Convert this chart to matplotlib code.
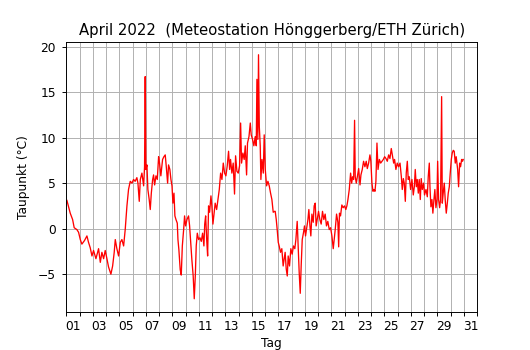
import numpy as np
import matplotlib
matplotlib.use("Agg")
import matplotlib.pyplot as plt

# time in days since 1 April 2022 00:00
days = [
    0.05, 0.3, 0.48, 0.6, 0.8, 0.93, 1.06, 1.18, 1.38, 1.56, 1.68, 1.81, 1.94, 2.06, 2.24, 2.44,
    2.57, 2.69, 2.82, 2.94, 3.07, 3.19, 3.37, 3.5, 3.62, 3.7, 3.82, 3.95, 4.08, 4.2, 4.33, 4.45,
    4.58, 4.7, 4.83, 4.96, 5.08, 5.2,
    5.33, 5.41, 5.51, 5.59, 5.71, 5.84, 5.91, 5.96, 6.01, 6.09, 6.16, 6.26, 6.34, 6.42, 6.52, 6.59,
    6.67, 6.77, 6.87, 6.97, 7.04, 7.14, 7.27, 7.37, 7.47, 7.55, 7.65, 7.72, 7.82, 7.90, 7.98, 8.05,
    8.13, 8.20, 8.28, 8.38, 8.43, 8.50, 8.60, 8.68, 8.76, 8.86, 8.93, 9.01, 9.11, 9.23, 9.31, 9.38,
    9.48, 9.58, 9.66, 9.74, 9.81, 9.89, 9.99, 10.09, 10.19, 10.29, 10.39, 10.45, 10.52,
    10.6, 10.67, 10.74, 10.82, 10.92, 10.99, 11.07, 11.17, 11.24, 11.35, 11.45, 11.55, 11.65, 11.75,
    11.85, 11.95, 12.05, 12.15, 12.25, 12.33, 12.40, 12.50, 12.60, 12.70, 12.78, 12.88, 12.98, 13.08,
    13.16, 13.23, 13.33, 13.43, 13.51, 13.61, 13.68, 13.79, 13.89, 13.96, 14.06, 14.16, 14.26, 14.34,
    14.39, 14.46, 14.51, 14.57, 14.64, 14.69, 14.77, 14.87, 14.94, 15.02, 15.12, 15.22, 15.32, 15.42,
    15.52, 15.62, 15.72, 15.77,
    15.85, 15.92, 16.0, 16.07, 16.17, 16.27, 16.37, 16.45, 16.52, 16.6, 16.68, 16.75, 16.85, 16.95,
    17.05, 17.15, 17.25, 17.33, 17.43, 17.51, 17.58, 17.66, 17.73, 17.81, 17.91, 17.98, 18.06, 18.13,
    18.24, 18.31, 18.39, 18.46, 18.54, 18.64, 18.71, 18.79, 18.86, 18.94, 19.04, 19.14, 19.24, 19.34,
    19.44, 19.54, 19.64, 19.74, 19.85, 19.95, 20.05, 20.15, 20.22, 20.30, 20.40, 20.50, 20.56, 20.62,
    20.70, 20.80, 20.90, 21.0, 21.1, 21.18,
    21.26, 21.36, 21.46, 21.54, 21.61, 21.69, 21.76, 21.81, 21.89, 21.97, 22.07, 22.17, 22.24, 22.34,
    22.44, 22.54, 22.64, 22.72, 22.82, 22.92, 22.99, 23.07, 23.15, 23.22, 23.30, 23.37, 23.45, 23.53,
    23.63, 23.73, 23.83, 23.93, 24.03, 24.13, 24.23, 24.33, 24.43, 24.53, 24.63, 24.71, 24.78, 24.88,
    24.98, 25.08, 25.19, 25.29, 25.36, 25.44, 25.51, 25.59, 25.66, 25.74, 25.81, 25.89, 25.99, 26.09,
    26.19, 26.27, 26.34,
    26.42, 26.49, 26.57, 26.64, 26.72, 26.79, 26.87, 26.97, 27.04, 27.15, 27.25, 27.32, 27.40, 27.45,
    27.52, 27.60, 27.67, 27.75, 27.82, 27.90, 27.98, 28.03, 28.10, 28.18, 28.25, 28.33, 28.38, 28.45,
    28.53, 28.60, 28.68, 28.76, 28.83, 28.91, 28.98, 29.06, 29.13, 29.21, 29.28, 29.36, 29.43, 29.54,
    29.61, 29.69, 29.76, 29.84, 29.91, 29.96,
]

# dew point (deg C)
dewpoint = [
    3.1, 1.7, 1.0, 0.1, -0.1, -0.4, -1.2, -1.7, -1.3, -0.8, -1.5, -2.1, -3.0, -2.4, -3.3, -2.2,
    -3.7, -2.6, -3.3, -2.4, -3.3, -4.2, -5.0, -4.1, -2.6, -1.2, -2.2, -3.0, -1.5, -1.2, -1.9, -0.1,
    2.5, 4.3, 5.2, 5.0, 5.4, 5.2,
    5.6, 5.0, 3.0, 5.4, 6.1, 4.7, 6.8, 16.7, 6.5, 7.0, 4.3, 3.2, 2.1, 3.9, 5.4, 5.9,
    4.8, 5.8, 5.4, 7.9, 7.2, 5.8, 7.6, 7.9, 8.1, 6.8, 5.0, 7.0, 6.5, 5.4, 4.7, 2.8,
    3.9, 1.4, 1.0, 0.6, -1.2, -2.3, -4.5, -5.1, -1.9, -0.1, 1.4, 0.3, 1.0, 1.4, 0.3, -1.2,
    -3.4, -5.2, -7.7, -5.2, -1.9, -0.5, -1.2, -1.0, -1.4, -0.5, -1.9, 0.5, 1.4,
    -1.2, -3.0, 2.5, 1.8, 3.6, 2.5, 0.5, 1.8, 2.8, 2.1, 3.2, 4.3, 6.1, 5.4,
    7.2, 6.1, 5.8, 6.9, 8.5, 6.5, 7.6, 6.1, 7.2, 3.8, 8.0, 6.3, 6.1, 6.9,
    11.6, 7.2, 8.3, 7.6, 9.1, 5.9, 9.4, 10.1, 11.6, 10.3, 9.8, 9.1, 10.1, 9.1,
    16.4, 9.8, 19.1, 11.2, 9.1, 5.4, 7.6, 6.1, 10.3, 6.5, 4.7, 5.2, 4.7, 3.9,
    3.2, 1.8, 1.9, 1.9,
    1.0, -0.1, -1.5, -1.9, -2.6, -2.2, -4.1, -3.3, -2.6, -4.4, -5.2, -3.0, -4.1, -2.2,
    -2.8, -1.9, -2.2, -1.2, 0.8, -2.2, -4.8, -7.1, -4.1, -1.2, -0.4, 0.3, -0.8, -0.1,
    1.0, 2.1, 0.3, -0.8, 1.6, 0.7, 2.5, 2.8, 0.3, 1.0, 1.9, 1.0, 0.5, 1.9,
    1.0, 1.6, 0.3, 0.8, -0.1, 0.1, -0.8, -2.2, -1.2, -0.1, 1.6, 0.7, -2.0, 1.7,
    1.4, 2.6, 2.3, 2.5, 2.1, 2.5,
    3.2, 4.3, 6.1, 5.0, 5.7, 5.4, 11.9, 5.7, 5.0, 5.7, 6.6, 4.8, 5.9, 6.5,
    7.4, 6.8, 7.4, 6.6, 7.2, 8.1, 7.4, 5.0, 4.1, 4.3, 4.1, 5.2, 9.4, 6.5,
    7.6, 7.2, 7.4, 7.6, 7.9, 7.7, 7.4, 8.1, 7.7, 8.8, 7.9, 7.2, 7.6, 6.5,
    7.2, 6.8, 7.2, 5.7, 4.3, 5.5, 5.0, 3.0, 6.1, 7.4, 5.4, 5.7, 4.3, 5.4,
    3.7, 4.6, 6.5,
    4.6, 5.4, 3.9, 5.4, 3.2, 5.5, 4.3, 5.0, 3.7, 4.3, 3.5, 5.7, 7.2, 4.6,
    2.4, 3.2, 1.7, 3.2, 4.3, 2.3, 3.2, 7.4, 3.2, 2.3, 3.2, 14.5, 2.8, 3.9,
    5.0, 3.2, 1.7, 2.8, 3.9, 4.6, 6.1, 7.6, 8.3, 8.6, 8.5, 7.2, 7.9, 6.5,
    4.6, 7.2, 6.8, 7.6, 7.4, 7.6,
]

day_labels = ["%02d" % d for d in range(1, 32, 2)]

DPI = 86
fig, ax = plt.subplots(figsize=(530 / DPI, 350 / DPI), dpi=DPI)
ax.plot(days, dewpoint, color="red", lw=1.1)
ax.set_xlim(0, 31)
ax.set_ylim(-9.1, 20.5)
ax.set_yticks([-5, 0, 5, 10, 15, 20])
ax.set_xticks(range(0, 32))
ax.set_xticklabels([])
ax.set_xticks(np.arange(0.5, 31, 2), minor=True)
ax.set_xticklabels(day_labels, minor=True)
ax.tick_params(axis="x", which="minor", length=0, pad=7.5, labelsize=10.3)
ax.tick_params(axis="y", pad=5.0, labelsize=10.3)
ax.grid(True, which="major")
ax.set_title("April 2022  (Meteostation Hönggerberg/ETH Zürich)", fontsize=12.5)
ax.set_xlabel("Tag", fontsize=10.3, labelpad=3)
ax.set_ylabel("Taupunkt (°C)", fontsize=10.3, labelpad=6.5)
fig.savefig("out.png", dpi=DPI)
